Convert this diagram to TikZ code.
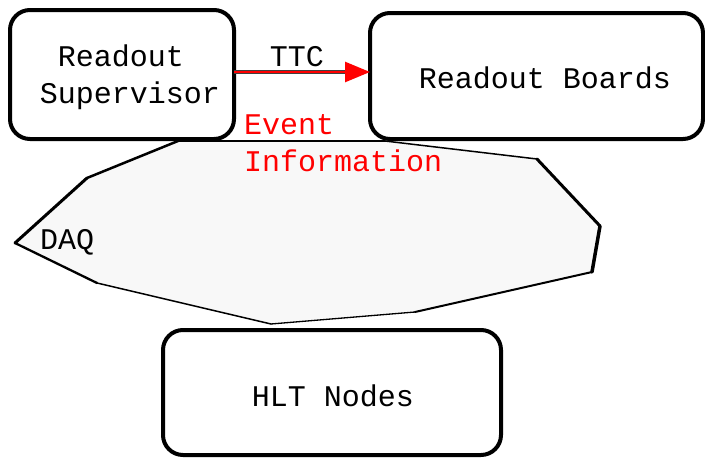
\documentclass[tikz,border=0pt]{standalone}
\usepackage{fontspec}
\setmainfont{Liberation Mono}
\usetikzlibrary{arrows.meta}
\definecolor{daqfill}{HTML}{F8F8F8}
\definecolor{evred}{HTML}{FF0000}
\tikzset{
  box/.style={draw, line width=4pt, rounded corners=20pt, fill=white,
    outer sep=0pt, inner sep=0pt, align=center,
    font=\fontsize{30}{37}\selectfont},
  lbl/.style={inner sep=0pt, font=\fontsize{30}{37}\selectfont},
  edge/.style={line cap=round, line join=round},
}
\begin{document}
\begin{tikzpicture}[x=1pt, y=-1pt]
\useasboundingbox (0,0) rectangle (705,458);

% DAQ outline
\coordinate (p1) at (178,141);
\coordinate (p2) at (87,178);
\coordinate (p3) at (15,243);
\coordinate (p4) at (97,283);
\coordinate (p5) at (271,324);
\coordinate (p6) at (415,312);
\coordinate (p7) at (592,272);
\coordinate (p8) at (600,226);
\coordinate (p9) at (537,159);
\coordinate (p10) at (385,141);
\fill[daqfill] (p1) -- (p2) -- (p3) -- (p4) -- (p5) -- (p6) -- (p7) -- (p8) -- (p9) -- (p10) -- cycle;
\draw[edge, line width=2.5pt] (p1) -- (p2);
\draw[edge, line width=3pt] (p2) -- (p3);
\draw[edge, line width=2.3pt] (p3) -- (p4);
\draw[edge, line width=1.5pt] (p4) -- (p5);
\draw[edge, line width=1.3pt] (p5) -- (p6);
\draw[edge, line width=2pt] (p6) -- (p7);
\draw[edge, line width=3.5pt] (p7) -- (p8);
\draw[edge, line width=3pt] (p8) -- (p9);
\draw[edge, line width=1.5pt] (p9) -- (p10);
\draw[edge, line width=1.5pt] (p10) -- (p1);
\node[lbl, anchor=base west] (daq) at (40,249) {DAQ};

% boxes (text baselines placed relative to the box centres)
\node[box, minimum width=224pt, minimum height=129pt] (sup) at (122,74.5)
  {\hspace{16pt}\raisebox{8.5pt}[0pt][0pt]{\begin{tabular}[t]{@{}c@{}}Readout\hphantom{x}\\Supervisor\end{tabular}}};
\node[box, minimum width=333pt, minimum height=126pt] (rob) at (536.5,76)
  {\hspace{17pt}\raisebox{-12pt}[0pt][0pt]{Readout Boards}};
\node[box, minimum width=338pt, minimum height=125pt] (hlt) at (332,392.5)
  {\hspace{2pt}\raisebox{-13.5pt}[0pt][0pt]{HLT Nodes}};

% TTC link
\coordinate (ttcA) at ([yshift=2.5pt]sup.east);
\coordinate (ttcB) at (ttcA -| rob.west);
\coordinate (ttcC) at ([xshift=-22pt]ttcB);
\draw[line width=4.5pt, black!75] (ttcA) -- (ttcC);
\draw[line width=2.6pt, evred, -{Triangle[length=25pt, width=20pt]}] (ttcA) -- (ttcB);
\node[lbl, anchor=base] (ttc) at (297,66) {TTC};

% event information label
\node[lbl, anchor=north west, align=left, text=evred] (evinfo) at (244,114)
  {Event\\Information};
\end{tikzpicture}
\end{document}
